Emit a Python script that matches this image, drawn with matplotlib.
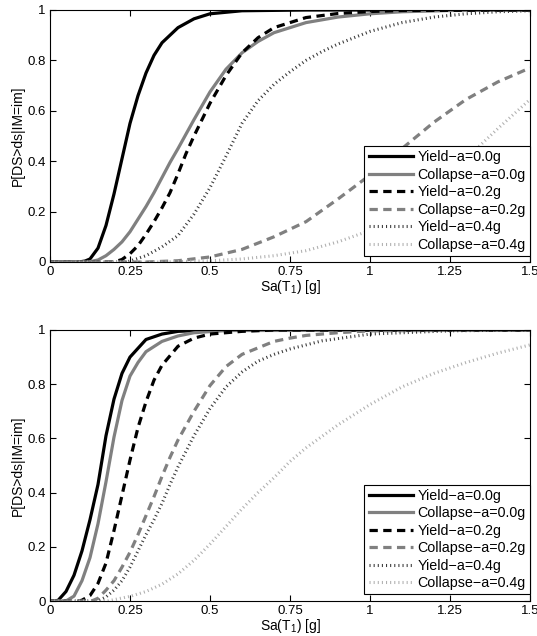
import matplotlib
matplotlib.use("Agg")
import matplotlib.pyplot as plt

plt.rcParams["font.family"] = ["Liberation Sans", "DejaVu Sans"]
plt.rcParams["mathtext.fontset"] = "custom"
plt.rcParams["mathtext.rm"] = "Liberation Sans"

# ---- upper panel: curves ----
top_y0_x = [0, 0.09, 0.11, 0.125, 0.15, 0.175, 0.2, 0.225, 0.25, 0.275, 0.3, 0.325, 0.35, 0.4, 0.45, 0.5, 0.6, 0.8, 1.5]
top_y0_p = [0, 0, 0.004, 0.012, 0.055, 0.145, 0.27, 0.41, 0.55, 0.66, 0.75, 0.82, 0.87, 0.93, 0.965, 0.985, 0.997, 1, 1]

top_c0_x = [0, 0.12, 0.15, 0.175, 0.2, 0.225, 0.25, 0.275, 0.3, 0.325, 0.35, 0.375, 0.4, 0.45, 0.5, 0.55, 0.6, 0.65, 0.7, 0.8, 0.9, 1.0, 1.1, 1.25, 1.5]
top_c0_p = [0, 0, 0.008, 0.025, 0.05, 0.08, 0.12, 0.17, 0.22, 0.275, 0.335, 0.395, 0.45, 0.565, 0.675, 0.765, 0.83, 0.875, 0.91, 0.95, 0.972, 0.985, 0.993, 0.998, 1]

top_y2_x = [0, 0.2, 0.225, 0.25, 0.275, 0.3, 0.325, 0.35, 0.375, 0.4, 0.425, 0.45, 0.475, 0.5, 0.55, 0.6, 0.65, 0.7, 0.8, 0.9, 1.0, 1.1, 1.5]
top_y2_p = [0, 0, 0.01, 0.033, 0.065, 0.11, 0.16, 0.215, 0.275, 0.35, 0.43, 0.5, 0.565, 0.63, 0.74, 0.83, 0.89, 0.93, 0.97, 0.986, 0.994, 0.998, 1]

top_c2_x = [0, 0.3, 0.4, 0.5, 0.6, 0.7, 0.8, 0.9, 1.0, 1.1, 1.2, 1.3, 1.4, 1.5]
top_c2_p = [0, 0, 0.005, 0.02, 0.05, 0.1, 0.16, 0.25, 0.345, 0.45, 0.555, 0.645, 0.715, 0.77]

top_y4_x = [0, 0.24, 0.3, 0.35, 0.4, 0.45, 0.5, 0.55, 0.6, 0.65, 0.7, 0.75, 0.8, 0.85, 0.9, 1.0, 1.1, 1.2, 1.3, 1.4, 1.5]
top_y4_p = [0, 0, 0.025, 0.06, 0.105, 0.19, 0.295, 0.42, 0.55, 0.64, 0.705, 0.755, 0.80, 0.835, 0.865, 0.915, 0.95, 0.972, 0.985, 0.993, 0.997]

top_c4_x = [0, 0.35, 0.5, 0.6, 0.7, 0.8, 0.9, 1.0, 1.1, 1.2, 1.3, 1.4, 1.5]
top_c4_p = [0, 0, 0.005, 0.012, 0.025, 0.045, 0.08, 0.125, 0.195, 0.29, 0.41, 0.53, 0.645]

# ---- lower panel ----
bot_y0_x = [0, 0.025, 0.05, 0.075, 0.1, 0.125, 0.15, 0.175, 0.2, 0.225, 0.25, 0.3, 0.35, 0.4, 0.5, 1.5]
bot_y0_p = [0, 0.002, 0.035, 0.095, 0.185, 0.3, 0.43, 0.61, 0.745, 0.84, 0.9, 0.965, 0.985, 0.995, 1, 1]

bot_c0_x = [0, 0.05, 0.075, 0.1, 0.125, 0.15, 0.175, 0.2, 0.225, 0.25, 0.275, 0.3, 0.35, 0.4, 0.45, 0.55, 1.5]
bot_c0_p = [0, 0, 0.018, 0.075, 0.16, 0.285, 0.44, 0.605, 0.74, 0.83, 0.88, 0.92, 0.958, 0.978, 0.99, 0.998, 1]

bot_y2_x = [0, 0.09, 0.1, 0.125, 0.15, 0.175, 0.2, 0.225, 0.25, 0.275, 0.3, 0.325, 0.35, 0.4, 0.45, 0.5, 0.6, 0.7, 1.5]
bot_y2_p = [0, 0, 0.003, 0.02, 0.065, 0.14, 0.26, 0.39, 0.52, 0.64, 0.735, 0.815, 0.87, 0.94, 0.97, 0.985, 0.995, 1, 1]

bot_c2_x = [0, 0.13, 0.15, 0.175, 0.2, 0.225, 0.25, 0.275, 0.3, 0.325, 0.35, 0.375, 0.4, 0.45, 0.5, 0.55, 0.6, 0.7, 0.75, 0.8, 0.9, 1.0, 1.5]
bot_c2_p = [0, 0, 0.01, 0.04, 0.075, 0.125, 0.18, 0.245, 0.315, 0.385, 0.46, 0.53, 0.594, 0.7, 0.795, 0.865, 0.91, 0.958, 0.97, 0.98, 0.99, 0.997, 1]

bot_y4_x = [0, 0.15, 0.175, 0.2, 0.225, 0.25, 0.275, 0.3, 0.325, 0.35, 0.375, 0.4, 0.45, 0.5, 0.55, 0.6, 0.65, 0.7, 0.75, 0.85, 1.0, 1.25, 1.5]
bot_y4_p = [0, 0, 0.015, 0.04, 0.075, 0.125, 0.185, 0.245, 0.3, 0.36, 0.43, 0.495, 0.61, 0.71, 0.79, 0.845, 0.885, 0.91, 0.93, 0.96, 0.985, 0.997, 1]

bot_c4_x = [0, 0.18, 0.2, 0.25, 0.3, 0.35, 0.4, 0.45, 0.5, 0.55, 0.6, 0.65, 0.7, 0.75, 0.8, 0.9, 1.0, 1.1, 1.2, 1.3, 1.4, 1.5]
bot_c4_p = [0, 0, 0.005, 0.017, 0.035, 0.062, 0.1, 0.15, 0.21, 0.275, 0.34, 0.4, 0.455, 0.515, 0.565, 0.65, 0.725, 0.79, 0.84, 0.88, 0.915, 0.945]

labels = ["Yield\u2212a=0.0g", "Collapse\u2212a=0.0g", "Yield\u2212a=0.2g",
          "Collapse\u2212a=0.2g", "Yield\u2212a=0.4g", "Collapse\u2212a=0.4g"]

# style per series: color, linestyle, linewidth
styles = [
    ("#000000", "-", 2.3),
    ("#808080", "-", 2.3),
    ("#000000", (0, (2.6, 1.7)), 2.3),
    ("#808080", (0, (2.6, 1.7)), 2.3),
    ("#3a3a3a", (0, (0.35, 1.0)), 2.2),
    ("#b0b0b0", (0, (0.35, 1.0)), 2.2),
]

panels = [
    [(top_y0_x, top_y0_p), (top_c0_x, top_c0_p), (top_y2_x, top_y2_p),
     (top_c2_x, top_c2_p), (top_y4_x, top_y4_p), (top_c4_x, top_c4_p)],
    [(bot_y0_x, bot_y0_p), (bot_c0_x, bot_c0_p), (bot_y2_x, bot_y2_p),
     (bot_c2_x, bot_c2_p), (bot_y4_x, bot_y4_p), (bot_c4_x, bot_c4_p)],
]

fig = plt.figure(figsize=(5.37, 6.36), dpi=100)
ax_top = fig.add_axes([50 / 537, 1 - 262 / 636, 480 / 537, 252 / 636])
ax_bot = fig.add_axes([50 / 537, 1 - 601 / 636, 480 / 537, 271 / 636])

for ax, curves in zip([ax_top, ax_bot], panels):
    for (xs, ps), (col, ls, lw), lab in zip(curves, styles, labels):
        ax.plot(xs, ps, color=col, linestyle=ls, linewidth=lw, label=lab)
    ax.set_xlim(0, 1.5)
    ax.set_ylim(0, 1)
    ax.set_xticks([0, 0.25, 0.5, 0.75, 1, 1.25, 1.5])
    ax.set_xticklabels(["0", "0.25", "0.5", "0.75", "1", "1.25", "1.5"])
    ax.set_yticks([0, 0.2, 0.4, 0.6, 0.8, 1])
    ax.set_yticklabels(["0", "0.2", "0.4", "0.6", "0.8", "1"])
    ax.tick_params(direction="in", top=True, right=True, length=4, width=0.8,
                   labelsize=9.5, pad=3)
    for sp in ax.spines.values():
        sp.set_linewidth(0.8)
    ax.set_xlabel("Sa(T$_\\mathrm{1}$) [g]", fontsize=10, labelpad=0)
    ax.set_ylabel("P[DS>ds|IM=im]", fontsize=10, labelpad=2)
    leg = ax.legend(loc="lower right", bbox_to_anchor=(1.0, 0.024), borderaxespad=0,
                    fontsize=10.3, handlelength=3.1, handletextpad=0.3,
                    labelspacing=0.24, borderpad=0.3, fancybox=False,
                    framealpha=1, edgecolor="black")
    leg.get_frame().set_linewidth(0.8)

fig.savefig("out.png", dpi=100)
